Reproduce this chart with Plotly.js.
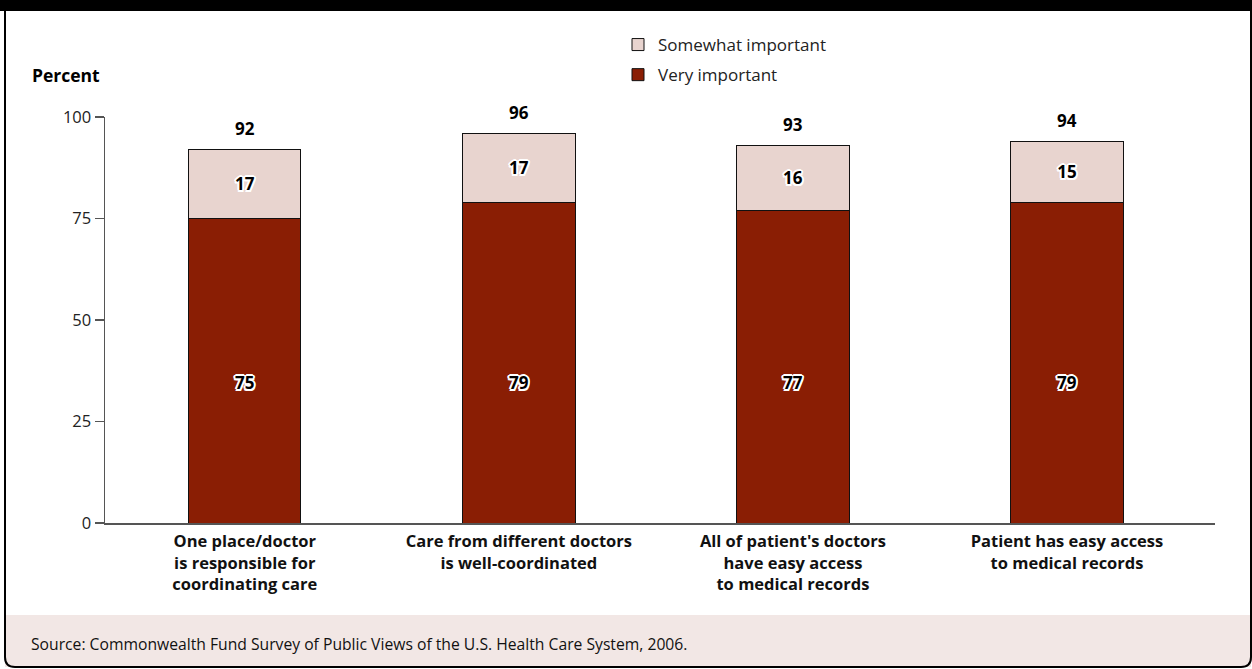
<!DOCTYPE html>
<html>
<head>
<meta charset="utf-8">
<script src="https://cdn.plot.ly/plotly-3.0.1.min.js"></script>
<style>
  html, body { margin: 0; padding: 0; background: #fff; }
  #chart { width: 1252px; height: 669px; }
</style>
</head>
<body>
<div id="chart"></div>
<script>
// ---- Data ----
const categories = [
  "One place/doctor<br>is responsible for<br>coordinating care",
  "Care from different doctors<br>is well-coordinated",
  "All of patient's doctors<br>have easy access<br>to medical records",
  "Patient has easy access<br>to medical records"
];
const veryImportant = [75, 79, 77, 79];
const somewhatImportant = [17, 17, 16, 15];
const totals = [92, 96, 93, 94];
const yTicks = [0, 25, 50, 75, 100];
const sourceText = "Source: Commonwealth Fund Survey of Public Views of the U.S. Health Care System, 2006.";

// ---- Styling / layout constants ----
const FONT = "Open Sans, Noto Sans, sans-serif";
const DARK = "#8a1e04";
const LIGHT = "#e8d4cf";
const BAND = "#f2e7e5";
const M = {l: 105, r: 37, t: 117, b: 146};
const W = 1252, H = 669;
const PW = W - M.l - M.r, PH = H - M.t - M.b;
const px = v => (v - M.l) / PW;           // page px -> paper x
const py = v => (H - M.b - v) / PH;       // page py -> paper y
const HALO_W = "2px 0 0 #fff,-2px 0 0 #fff,0 2px 0 #fff,0 -2px 0 #fff,1.5px 1.5px 0 #fff,-1.5px -1.5px 0 #fff,1.5px -1.5px 0 #fff,-1.5px 1.5px 0 #fff";
const VERY_LABEL_Y = 34.5;

const traces = [
  {
    type: "bar", name: "Very important", x: categories, y: veryImportant,
    legendgroup: "very", legendrank: 2,
    marker: {color: DARK, line: {color: "#111", width: 1}},
    width: 0.41, hoverinfo: "skip"
  },
  {
    type: "bar", name: "Somewhat important", x: categories, y: somewhatImportant,
    legendgroup: "somewhat", legendrank: 1,
    marker: {color: LIGHT, line: {color: "#111", width: 1}},
    width: 0.41, hoverinfo: "skip",
    text: somewhatImportant.map(String), textposition: "inside", insidetextanchor: "middle",
    textangle: 0, constraintext: "none",
    textfont: {family: FONT, size: 17, weight: 700, color: "#000", shadow: HALO_W}
  }
];

const annotations = [];
categories.forEach((c, i) => {
  annotations.push({
    x: c, y: totals[i], xref: "x", yref: "y", text: String(totals[i]),
    showarrow: false, yanchor: "bottom", yshift: 7,
    font: {family: FONT, size: 17, weight: 700, color: "#000"}
  });
  annotations.push({
    x: c, y: VERY_LABEL_Y, xref: "x", yref: "y", text: String(veryImportant[i]),
    showarrow: false,
    font: {family: FONT, size: 17, weight: 700, color: "#000", shadow: HALO_W}
  });
});
annotations.push({
  x: px(30), y: py(75), xref: "paper", yref: "paper", xanchor: "left", yanchor: "middle",
  text: "<b>Percent</b>", showarrow: false,
  font: {family: FONT, size: 17.5, color: "#000"}
});
annotations.push({
  x: px(29), y: py(644), xref: "paper", yref: "paper", xanchor: "left", yanchor: "middle",
  text: sourceText, showarrow: false,
  font: {family: FONT, size: 15.7, color: "#111"}
});

const shapes = [
  // source band
  {type: "rect", xref: "paper", yref: "paper", x0: px(5), x1: px(1251), y0: py(615), y1: py(667),
   fillcolor: BAND, line: {width: 0}, layer: "below"},
  // top black band
  {type: "rect", xref: "paper", yref: "paper", x0: px(0), x1: px(1252), y0: py(0), y1: py(11),
   fillcolor: "#000", line: {width: 0}, layer: "above"},
  // frame
  {type: "path", xref: "paper", yref: "paper", layer: "above",
   path: `M ${px(5)},${py(11)} L ${px(5)},${py(657)} Q ${px(5)},${py(667)} ${px(15)},${py(667)} ` +
         `L ${px(1241)},${py(667)} Q ${px(1251)},${py(667)} ${px(1251)},${py(657)} L ${px(1251)},${py(11)}`,
   line: {color: "#000", width: 2}}
];

const layout = {
  width: W, height: H,
  margin: M,
  paper_bgcolor: "#fff", plot_bgcolor: "#fff",
  barmode: "stack",
  font: {family: FONT, color: "#222"},
  showlegend: true,
  legend: {
    x: px(618), y: py(27), xanchor: "left", yanchor: "top",
    bgcolor: "rgba(0,0,0,0)", traceorder: "grouped",
    font: {family: FONT, size: 17, color: "#222"},
    itemwidth: 30, tracegroupgap: 5
  },
  xaxis: {
    type: "category", range: [-0.51, 3.54],
    showline: true, linecolor: "#555", linewidth: 1.5,
    ticks: "", showgrid: false, zeroline: false,
    ticklabelstandoff: 3,
    tickfont: {family: FONT, size: 16.5, weight: 700, color: "#111"},
    fixedrange: true
  },
  yaxis: {
    range: [0, 100], tickvals: yTicks, ticktext: yTicks.map(String),
    showline: true, linecolor: "#555", linewidth: 1.5,
    ticks: "outside", ticklen: 9, tickcolor: "#555", tickwidth: 1.5,
    showgrid: false, zeroline: false,
    tickfont: {family: FONT, size: 16.5, color: "#222"},
    fixedrange: true
  },
  annotations: annotations,
  shapes: shapes
};

Plotly.newPlot("chart", traces, layout, {displayModeBar: false, staticPlot: true});
</script>
</body>
</html>
